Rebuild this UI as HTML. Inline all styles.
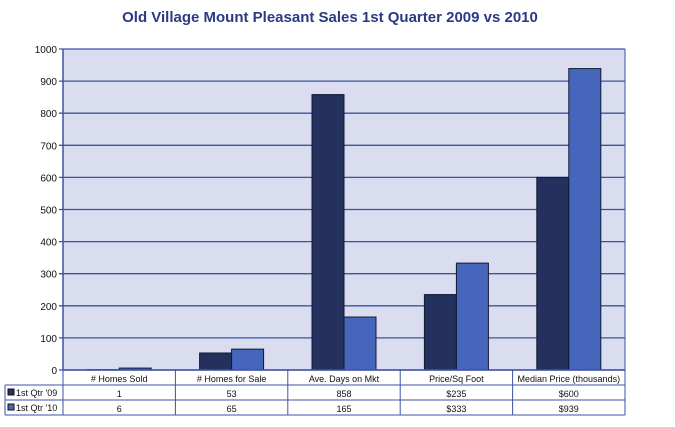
<!DOCTYPE html>
<html><head><meta charset="utf-8"><style>
body{margin:0;background:#fff;width:675px;height:422px;overflow:hidden;font-family:"Liberation Sans",sans-serif}
</style></head><body>
<svg id="c" width="675" height="422" xmlns="http://www.w3.org/2000/svg">
<text x="330" y="22" text-anchor="middle" font-size="15" font-weight="bold" fill="#2a3a86">Old Village Mount Pleasant Sales 1st Quarter 2009 vs 2010</text>
<g id="g"></g>
</svg>
<script>
const categories=["# Homes Sold","# Homes for Sale","Ave. Days on Mkt","Price/Sq Foot","Median Price (thousands)"];
const series09=[1,53,858,235,600];
const series10=[6,65,165,333,939];
const labels09=["1","53","858","$235","$600"];
const labels10=["6","65","165","$333","$939"];
const yTicks=[0,100,200,300,400,500,600,700,800,900,1000];
const seriesNames=["1st Qtr '09","1st Qtr '10"];
const colors=["#24305e","#4666bc"];
const L=63,R=625,T=49,B=370,yMax=1000;
const cw=(R-L)/categories.length;
const y=v=>B-(v/yMax)*(B-T);
const x=i=>L+i*cw;
const g=document.getElementById('g');
const NS="http://www.w3.org/2000/svg";
function mk(t,a,p){const e=document.createElementNS(NS,t);for(const k in a)e.setAttribute(k,a[k]);(p||g).appendChild(e);return e;}
let e=mk('rect',{x:L,y:T,width:R-L,height:B-T,fill:"#d9ddef"});


yTicks.forEach(t=>{
 let l=mk('line',{x1:L-4,x2:R,y1:y(t),y2:y(t),stroke:"#3d52a6","stroke-width":1.3});
 
 
 let tx=mk('text',{x:L-6,y:y(t)+4,"text-anchor":"end","font-size":10,fill:"#111"});
 tx.textContent=t;
 
 
});
mk('line',{x1:L,x2:L,y1:T,y2:B,stroke:"#3d52a6","stroke-width":1.5});
mk('line',{x1:R,x2:R,y1:T,y2:B,stroke:"#3d52a6","stroke-width":1});
const bw=32;
categories.forEach((c,i)=>{
 const cx=x(i)+cw/2;
 [series09,series10].forEach((s,j)=>{
  const v=s[i];
  let r=mk('rect',{x:cx-bw+j*bw,y:y(v),width:bw,height:B-y(v),fill:colors[j],stroke:"#111a33","stroke-width":1});
  
  
 });
});
// table
const rows=[370,385,400,415];
mk('line',{x1:L,x2:R,y1:370,y2:370,stroke:"#3d52a6","stroke-width":1.5});
mk('line',{x1:5,x2:R,y1:385,y2:385,stroke:"#3d52a6","stroke-width":1});
mk('line',{x1:5,x2:R,y1:400,y2:400,stroke:"#3d52a6","stroke-width":1});
mk('line',{x1:5,x2:R,y1:415,y2:415,stroke:"#3d52a6","stroke-width":1});
mk('line',{x1:5,x2:5,y1:385,y2:415,stroke:"#3d52a6","stroke-width":1});
for(let i=0;i<=categories.length;i++)mk('line',{x1:x(i),x2:x(i),y1:370,y2:415,stroke:"#3d52a6","stroke-width":1});
categories.forEach((c,i)=>{
 let t=mk('text',{x:x(i)+cw/2,y:382,"text-anchor":"middle","font-size":9,fill:"#111"});
 t.textContent=c;
 
 
 [labels09,labels10].forEach((lb,j)=>{
  let v=mk('text',{x:x(i)+cw/2,y:397+j*15,"text-anchor":"middle","font-size":9,fill:"#111"});
  v.textContent=lb[i];
  
  
 });
});
seriesNames.forEach((n,j)=>{
 let k=mk('rect',{x:8,y:389+j*15,width:6,height:6,fill:colors[j],stroke:"#111","stroke-width":1});
 
 
 let t=mk('text',{x:16,y:396+j*15,"font-size":9,fill:"#111"});
 t.textContent=n;
 
 
});
</script>
</body></html>
